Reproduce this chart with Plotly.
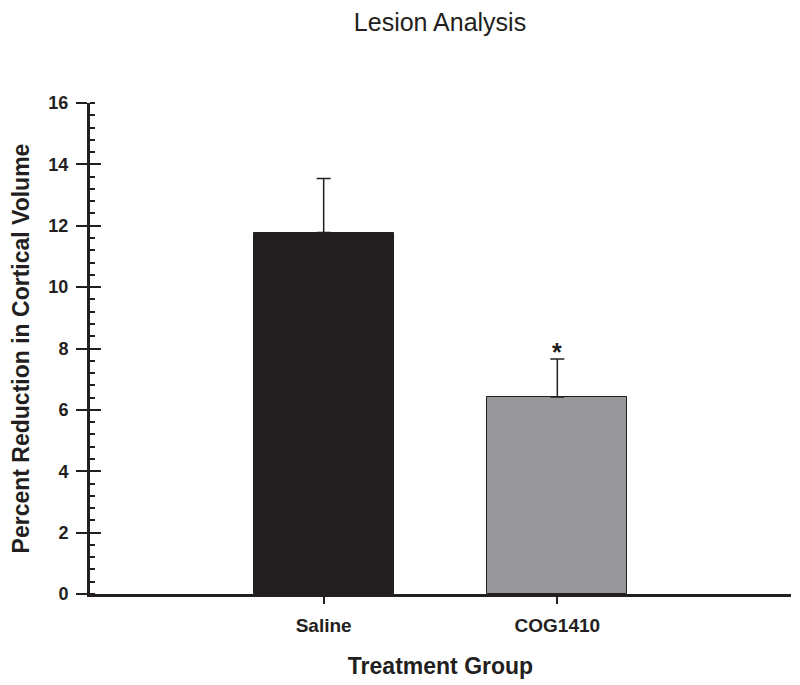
import plotly.graph_objects as go

categories = ["Saline", "COG1410"]
means = [11.78, 6.42]
sem = [1.76, 1.24]
bar_colors = ["#231f20", "#98989a"]
sig_labels = ["", "*"]
y_ticks = [0, 2, 4, 6, 8, 10, 12, 14, 16]

dark = "#231f20"
font_fam = "Arial, Liberation Sans, sans-serif"

fig = go.Figure()
fig.add_trace(go.Bar(
    x=[0, 1], y=means, width=0.6,
    marker=dict(color=bar_colors, line=dict(color=dark, width=1)),
    error_y=dict(type="data", array=sem, arrayminus=[0, 0], symmetric=False,
                 color=dark, thickness=1.5, width=7),
    showlegend=False,
))
# invisible trace on an overlay axis that carries the inside half of the major ticks
fig.add_trace(go.Scatter(x=[0], y=[0], yaxis="y2", mode="markers",
                         marker=dict(opacity=0), showlegend=False, hoverinfo="skip"))

for i, (lab, m, e) in enumerate(zip(sig_labels, means, sem)):
    if lab:
        fig.add_annotation(x=i, y=m + e, text="<b>" + lab + "</b>", showarrow=False,
                           yshift=7, font=dict(size=25, family=font_fam, color=dark))

fig.update_layout(
    width=800, height=685,
    margin=dict(l=82, r=17, t=95, b=99, autoexpand=False),
    paper_bgcolor="white", plot_bgcolor="white",
    bargap=0,
    title=dict(text="Lesion Analysis", x=0.54, xanchor="center", y=1 - 14 / 685,
               yanchor="middle", font=dict(size=25, family=font_fam, color=dark)),
    xaxis=dict(range=[-1, 2], tickmode="array", tickvals=[0, 1], ticktext=categories,
               showgrid=False, zeroline=False, showline=True, linecolor=dark, linewidth=3,
               ticks="outside", ticklen=7, tickwidth=1.5, tickcolor=dark,
               ticklabelstandoff=5, automargin=False,
               tickfont=dict(size=19, family=font_fam, color=dark, weight="bold"),
               title=dict(text="<b>Treatment Group</b>", standoff=24,
                          font=dict(size=23, family=font_fam, color=dark))),
    yaxis=dict(range=[0, 16], tickmode="array", tickvals=y_ticks,
               showgrid=False, zeroline=False, showline=True, linecolor=dark, linewidth=3,
               ticks="outside", ticklen=11, tickwidth=2, tickcolor=dark,
               ticklabelstandoff=4, automargin=False,
               minor=dict(dtick=0.4, tick0=0, ticks="inside", ticklen=5, tickwidth=1.5,
                          tickcolor=dark, showgrid=False),
               tickfont=dict(size=18, family=font_fam, color=dark, weight="bold"),
               title=dict(text="<b>Percent Reduction in Cortical Volume</b>", standoff=16,
                          font=dict(size=23, family=font_fam, color=dark))),
    yaxis2=dict(range=[0, 16], overlaying="y", side="left", tickmode="array",
                tickvals=y_ticks, showticklabels=False, showgrid=False, zeroline=False,
                showline=False, ticks="inside", ticklen=11, tickwidth=2, tickcolor=dark),
)

fig.write_html("out.html")
